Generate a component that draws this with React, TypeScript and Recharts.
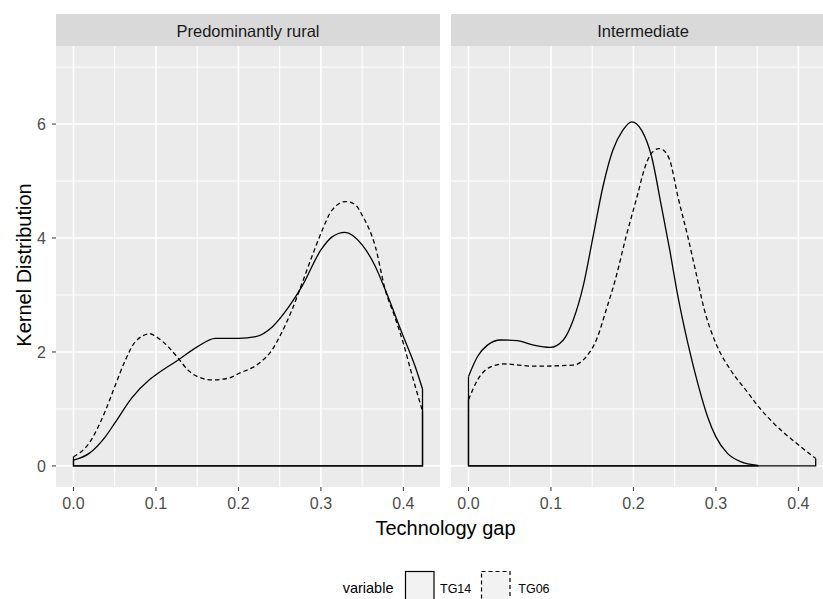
import { LineChart, Line, XAxis, YAxis, CartesianGrid } from 'recharts';

// axis breaks
const xTicks = [0, 0.1, 0.2, 0.3, 0.4];
const xMinor = [0.05, 0.15, 0.25, 0.35];
const yTicks = [0, 2, 4, 6];
const yMinor = [1, 3, 5, 7];
const xDomain = [-0.0212, 0.4444];
const yDomain = [-0.37, 7.37];

// Predominantly rural
const ruralX14 = [0, 0.019, 0.039, 0.05, 0.071, 0.091, 0.1, 0.127, 0.15, 0.172, 0.2, 0.221, 0.241, 0.261, 0.277, 0.3, 0.3135, 0.329, 0.35, 0.366, 0.378, 0.4, 0.4144, 0.4232];
const ruralTG14 = [0.1, 0.22, 0.52, 0.75, 1.2, 1.5, 1.6, 1.86, 2.09, 2.24, 2.24, 2.27, 2.44, 2.79, 3.15, 3.79, 4.02, 4.1, 3.88, 3.5, 3.09, 2.27, 1.74, 1.35];
const ruralX06 = [0, 0.019, 0.039, 0.05, 0.063, 0.075, 0.093, 0.1, 0.115, 0.127, 0.139, 0.15, 0.168, 0.188, 0.2, 0.225, 0.241, 0.25, 0.265, 0.277, 0.289, 0.3, 0.3135, 0.33, 0.342, 0.35, 0.366, 0.378, 0.39, 0.4, 0.41, 0.4232];
const ruralTG06 = [0.16, 0.4, 0.98, 1.39, 1.86, 2.18, 2.32, 2.27, 2.09, 1.89, 1.68, 1.57, 1.51, 1.54, 1.62, 1.8, 2.04, 2.27, 2.74, 3.2, 3.67, 4.08, 4.49, 4.64, 4.58, 4.4, 3.85, 3.09, 2.6, 2.15, 1.62, 0.96];

// Intermediate
const interX14 = [0, 0.011, 0.023, 0.039, 0.059, 0.079, 0.099, 0.115, 0.127, 0.139, 0.151, 0.163, 0.175, 0.187, 0.198, 0.21, 0.222, 0.234, 0.244, 0.254, 0.266, 0.278, 0.29, 0.3, 0.314, 0.33, 0.351];
const interTG14 = [1.57, 1.92, 2.12, 2.21, 2.2, 2.12, 2.08, 2.21, 2.56, 3.15, 4.02, 4.9, 5.54, 5.89, 6.04, 5.89, 5.43, 4.55, 3.79, 2.97, 2.15, 1.45, 0.86, 0.51, 0.22, 0.075, 0.01];
const interX06 = [0, 0.011, 0.027, 0.043, 0.079, 0.127, 0.143, 0.155, 0.167, 0.179, 0.191, 0.201, 0.2054, 0.211, 0.2173, 0.224, 0.231, 0.238, 0.244, 0.254, 0.266, 0.276, 0.286, 0.3, 0.318, 0.338, 0.35, 0.37, 0.4, 0.421];
const interTG06 = [1.16, 1.51, 1.74, 1.79, 1.75, 1.77, 1.92, 2.21, 2.74, 3.32, 4.02, 4.55, 4.78, 5.1, 5.37, 5.52, 5.57, 5.52, 5.37, 4.72, 4.02, 3.38, 2.74, 2.15, 1.68, 1.3, 1.07, 0.75, 0.37, 0.13];

const toPoints = (xs: number[], ys: number[]) => xs.map((x, i) => ({ x, y: ys[i] }));

// density polygon edges: drop at both ends + baseline
const outline = (xs: number[], ys: number[]) => {
    const n = xs.length - 1;
    return [
        { x: xs[0], y: ys[0] },
        { x: xs[0], y: 0 },
        { x: xs[n], y: 0 },
        { x: xs[n], y: ys[n] },
    ];
};

type PanelProps = {
    title: string;
    left: number;
    showY: boolean;
    x14: number[];
    y14: number[];
    x06: number[];
    y06: number[];
};

const Panel = ({ title, left, showY, x14, y14, x06, y06 }: PanelProps) => {
    const plotLeft = showY ? 56 : 0;
    return (
        <div style={{ position: 'absolute', left, top: 0 }}>
            <LineChart
                width={plotLeft + 384}
                height={599}
                margin={{ top: 46, right: 0, bottom: 82, left: 0 }}
            >
                <CartesianGrid
                    fill='#EBEBEB'
                    stroke='#FFFFFF'
                    strokeWidth={1}
                    horizontalValues={yMinor}
                    verticalValues={xMinor}
                />
                <CartesianGrid
                    stroke='#FFFFFF'
                    strokeWidth={1.6}
                    horizontalValues={yTicks}
                    verticalValues={xTicks}
                />
                <XAxis
                    type='number'
                    dataKey='x'
                    domain={xDomain}
                    allowDataOverflow
                    ticks={xTicks}
                    tickFormatter={(v: number) => v.toFixed(1)}
                    tick={{ fontSize: 16, fill: '#4D4D4D' }}
                    tickLine={{ stroke: '#333333' }}
                    tickSize={4}
                    tickMargin={7}
                    axisLine={false}
                    height={30}
                />
                <YAxis
                    type='number'
                    domain={yDomain}
                    allowDataOverflow
                    ticks={yTicks}
                    hide={!showY}
                    width={56}
                    tick={{ fontSize: 16, fill: '#4D4D4D' }}
                    tickLine={{ stroke: '#333333' }}
                    tickSize={4}
                    tickMargin={6}
                    axisLine={false}
                />
                <Line data={outline(x06, y06)} dataKey='y' type='linear' stroke='#000000' strokeWidth={1.3} dot={false} isAnimationActive={false} />
                <Line data={toPoints(x06, y06)} dataKey='y' type='monotone' stroke='#000000' strokeWidth={1.3} strokeDasharray='4.5 3' dot={false} isAnimationActive={false} />
                <Line data={outline(x14, y14)} dataKey='y' type='linear' stroke='#000000' strokeWidth={1.3} dot={false} isAnimationActive={false} />
                <Line data={toPoints(x14, y14)} dataKey='y' type='monotone' stroke='#000000' strokeWidth={1.3} dot={false} isAnimationActive={false} />
            </LineChart>
            <div style={{
                position: 'absolute', left: plotLeft, top: 14, width: 384, height: 32,
                background: '#D9D9D9', color: '#1A1A1A', fontSize: 16.5,
                display: 'flex', alignItems: 'center', justifyContent: 'center', paddingTop: 3, boxSizing: 'border-box'
            }}>
                {title}
            </div>
        </div>
    );
};

const App = () => {
    return (
        <div style={{
            position: 'fixed', left: 0, top: 0, width: 823, height: 599, overflow: 'hidden',
            background: '#FFFFFF', fontFamily: '"Liberation Sans", Arial, sans-serif'
        }}>
            <Panel title='Predominantly rural' left={0} showY x14={ruralX14} y14={ruralTG14} x06={ruralX06} y06={ruralTG06} />
            <Panel title='Intermediate' left={451} showY={false} x14={interX14} y14={interTG14} x06={interX06} y06={interTG06} />
            <svg width={823} height={599} style={{ position: 'absolute', left: 0, top: 0, pointerEvents: 'none' }}>
                <text x={445.5} y={535} textAnchor='middle' fontSize={20} fill='#000000'>Technology gap</text>
                <text transform='translate(31,265) rotate(-90)' textAnchor='middle' fontSize={20} fill='#000000'>Kernel Distribution</text>
                <text x={342.7} y={593} fontSize={14.5} fill='#000000'>variable</text>
                <rect x={405.5} y={571.5} width={28.5} height={34} fill='#F2F2F2' stroke='#000000' strokeWidth={1.2} />
                <text x={440} y={592.5} fontSize={12.5} fill='#000000'>TG14</text>
                <rect x={481.5} y={571.5} width={28.5} height={34} fill='#F2F2F2' stroke='#000000' strokeWidth={1.2} strokeDasharray='4 3' />
                <text x={518.3} y={592.5} fontSize={12.5} fill='#000000'>TG06</text>
            </svg>
        </div>
    );
};

export default App;
